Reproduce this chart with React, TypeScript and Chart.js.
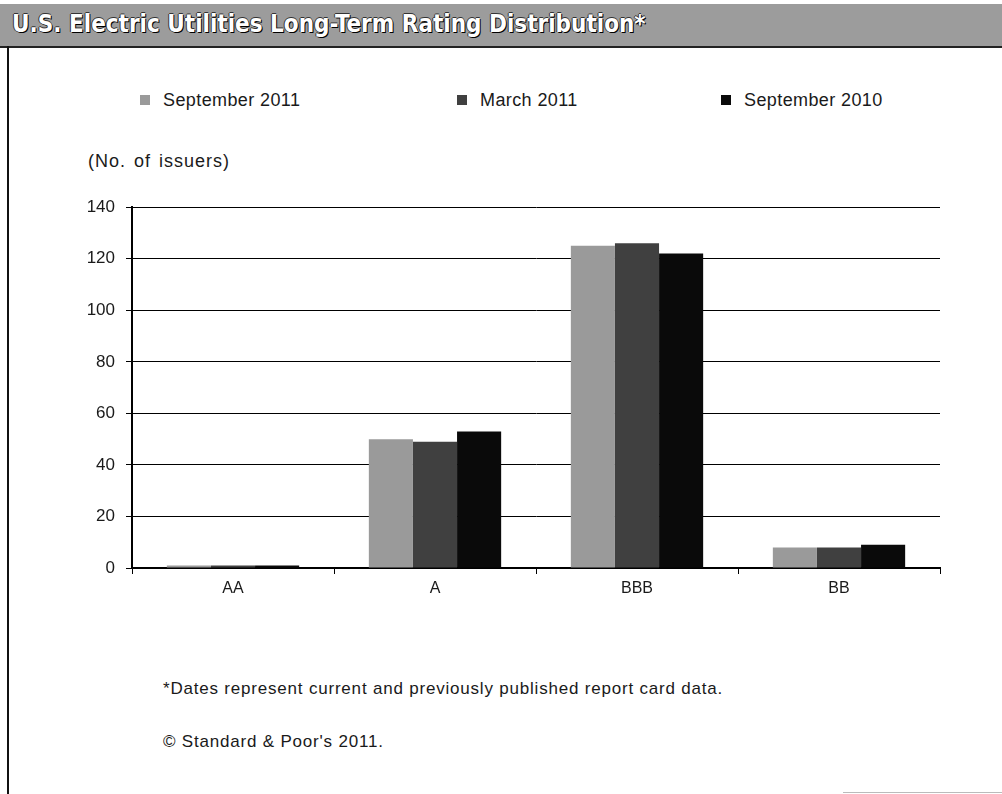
import React, { useEffect, useRef } from "react";
import { Chart, registerables } from "chart.js";

Chart.register(...registerables);

const chartTitle = "U.S. Electric Utilities Long-Term Rating Distribution*";
const yUnitLabel = "(No. of issuers)";
const categories = ["AA", "A", "BBB", "BB"];
const seriesNames = ["September 2011", "March 2011", "September 2010"];
const sept2011 = [1, 50, 125, 8];
const march2011 = [1, 49, 126, 8];
const sept2010 = [1, 53, 122, 9];
const seriesColors = ["#9a9a9a", "#404040", "#0a0a0a"];
const yMin = 0;
const yMax = 140;
const yStep = 20;
const footnotes = [
  "*Dates represent current and previously published report card data.",
  "\u00a9 Standard & Poor's 2011.",
];

const FONT = "'Liberation Sans', Arial, sans-serif";

export default function App() {
  const canvasRef = useRef<HTMLCanvasElement | null>(null);

  useEffect(() => {
    const canvas = canvasRef.current;
    if (!canvas) return;
    const seriesValues = [sept2011, march2011, sept2010];
    const chart = new Chart(canvas, {
      type: "bar",
      data: {
        labels: categories,
        datasets: seriesNames.map((name, i) => ({
          label: name,
          data: seriesValues[i],
          backgroundColor: seriesColors[i],
          borderWidth: 0,
          barPercentage: 1,
          categoryPercentage: 0.655,
        })),
      },
      options: {
        responsive: false,
        animation: false,
        layout: { padding: { top: 10, left: 80, right: 54, bottom: 8 } },
        plugins: {
          legend: { display: false },
          title: { display: false },
          tooltip: { enabled: false },
        },
        scales: {
          x: {
            grid: {
              display: true,
              drawOnChartArea: false,
              drawTicks: true,
              tickLength: 6,
              color: "#000",
              lineWidth: 1,
              offset: true,
            },
            border: { display: true, color: "#000", width: 2 },
            ticks: {
              color: "#1a1a1a",
              padding: 5,
              font: { family: FONT, size: 16 },
            },
            afterFit: (scale: any) => {
              scale.height = 30;
            },
          },
          y: {
            min: yMin,
            max: yMax,
            grid: {
              color: "#000",
              lineWidth: 1,
              drawTicks: true,
              tickLength: 6,
            },
            border: { display: true, color: "#000", width: 2 },
            ticks: {
              stepSize: yStep,
              color: "#1a1a1a",
              padding: 11,
              font: { family: FONT, size: 17 },
            },
            afterFit: (scale: any) => {
              scale.width = 44;
            },
          },
        },
      },
    });
    return () => chart.destroy();
  }, []);

  const legendX = [140, 457, 721];

  return (
    <div
      style={{
        position: "absolute",
        left: 0,
        top: 0,
        width: 1002,
        height: 794,
        background: "#fff",
        overflow: "hidden",
        fontFamily: FONT,
      }}
    >
      <div
        style={{
          position: "absolute",
          left: 0,
          top: 4,
          width: 1002,
          height: 42,
          background: "#9c9c9c",
          borderBottom: "2px solid #222",
        }}
      >
        <div
          style={{
            position: "absolute",
            left: 12,
            top: 6,
            fontFamily: "'DejaVu Sans Condensed', 'Liberation Sans Narrow', 'DejaVu Sans', sans-serif",
            fontStretch: "condensed",
            fontWeight: "bold",
            fontSize: 24,
            color: "#fff",
            whiteSpace: "nowrap",
            textShadow: "1px 1px 0 #000, -1px 0 0 #333, 0 -1px 0 #333",
          }}
        >
          {chartTitle}
        </div>
      </div>
      <div
        style={{
          position: "absolute",
          left: 7,
          top: 46,
          width: 2,
          height: 748,
          background: "#111",
        }}
      />
      <div
        style={{
          position: "absolute",
          left: 843,
          top: 792,
          width: 159,
          height: 1,
          background: "#bbb",
        }}
      />
      {seriesNames.map((name, i) => (
        <div
          key={name}
          style={{
            position: "absolute",
            left: legendX[i],
            top: 89,
            height: 22,
            display: "flex",
            alignItems: "center",
            whiteSpace: "nowrap",
            fontSize: 18,
            color: "#1a1a1a",
            letterSpacing: 0.4,
          }}
        >
          <span
            style={{
              display: "inline-block",
              width: 10,
              height: 10,
              background: seriesColors[i],
              marginRight: 13,
            }}
          />
          {name}
        </div>
      ))}
      <div
        style={{
          position: "absolute",
          left: 88,
          top: 151,
          fontSize: 18,
          color: "#1a1a1a",
          whiteSpace: "nowrap",
          letterSpacing: 1,
          wordSpacing: 2,
        }}
      >
        {yUnitLabel}
      </div>
      <canvas
        ref={canvasRef}
        width={986}
        height={420}
        style={{ position: "absolute", left: 8, top: 186, width: 986, height: 420 }}
      />
      {footnotes.map((t, i) => (
        <div
          key={i}
          style={{
            position: "absolute",
            left: 163,
            top: 679 + i * 53,
            fontSize: 17,
            color: "#1a1a1a",
            whiteSpace: "nowrap",
            letterSpacing: 0.8,
          }}
        >
          {t}
        </div>
      ))}
    </div>
  );
}
